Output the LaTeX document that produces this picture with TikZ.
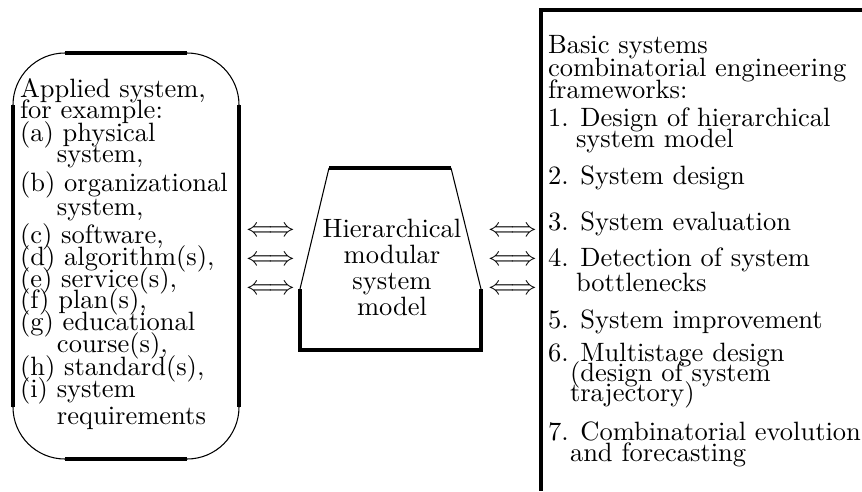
\documentclass[tikz,border=0pt]{standalone}
\begin{document}
\begin{tikzpicture}[x=0.3774pt,y=-0.3774pt,
  thinl/.style={line width=0.4pt},
  thickl/.style={line width=1.2pt},
  txt/.style={anchor=base west, inner sep=0pt, outer sep=0pt},
  ctxt/.style={anchor=base, inner sep=0pt, outer sep=0pt},
  arr/.style={anchor=base, inner sep=0pt, outer sep=0pt}]
\useasboundingbox (0,0) rectangle (862,491);

% left rounded box
\draw[thinl, rounded corners=19.6pt] (13,53) rectangle (239,459);
\draw[thickl] (13,105) -- (13,407);
\draw[thickl] (239,105) -- (239,407);
\draw[thickl] (65,53) -- (187,53);
\draw[thickl] (65,459) -- (187,459);

% middle shape
\draw[thinl] (329,168) -- (300,289);
\draw[thinl] (451,168) -- (481,289);
\draw[thickl] (329,168) -- (451,168);
\draw[thickl] (300,289) -- (300,350) -- (481,350) -- (481,289);

% right box (cut by the picture edge)
\draw[thickl] (862,10) -- (541,10) -- (541,491);

% left text
\node[txt] (l1)  at (20,97)  {Applied system,};
\node[txt] (l2)  at (20,118) {for example:};
\node[txt] (l3)  at (20,141) {(a) physical};
\node[txt] (l4)  at (57,162) {system,};
\node[txt] (l5)  at (20,191) {(b) organizational};
\node[txt] (l6)  at (57,215) {system,};
\node[txt] (l7)  at (20,243) {(c) software,};
\node[txt] (l8)  at (20,265) {(d) algorithm(s),};
\node[txt] (l9)  at (20,287) {(e) service(s),};
\node[txt] (l10) at (20,308) {(f) plan(s),};
\node[txt] (l11) at (20,330) {(g) educational};
\node[txt] (l12) at (57,352) {course(s),};
\node[txt] (l13) at (20,375) {(h) standard(s),};
\node[txt] (l14) at (20,397) {(i) system};
\node[txt] (l15) at (57,424) {requirements};

% middle text
\node[ctxt] (m1) at (392,237) {Hierarchical};
\node[ctxt] (m2) at (392,263) {modular};
\node[ctxt] (m3) at (392,289) {system};
\node[ctxt] (m4) at (392,315) {model};

% right text
\node[txt] (r1)  at (548,53)  {Basic systems};
\node[txt] (r2)  at (548,76)  {combinatorial engineering};
\node[txt] (r3)  at (548,98)  {frameworks:};
\node[txt] (r4)  at (548,126) {1. Design of hierarchical};
\node[txt] (r5)  at (576,147) {system model};
\node[txt] (r6)  at (548,184) {2. System design};
\node[txt] (r7)  at (548,230) {3. System evaluation};
\node[txt] (r8)  at (548,266) {4. Detection of system};
\node[txt] (r9)  at (576,291) {bottlenecks};
\node[txt] (r10) at (548,328) {5. System improvement};
\node[txt] (r11) at (548,361) {6. Multistage design};
\node[txt] (r12) at (570,381) {(design of system};
\node[txt] (r13) at (570,401) {trajectory)};
\node[txt] (r14) at (548,440) {7. Combinatorial evolution};
\node[txt] (r15) at (570,461) {and forecasting};

% double arrows
\node[arr] (al1) at (270.5,236.6) {$\Longleftrightarrow$};
\node[arr] (al2) at (270.5,265.6) {$\Longleftrightarrow$};
\node[arr] (al3) at (270.5,294.6) {$\Longleftrightarrow$};
\node[arr] (ar1) at (512.5,236.6) {$\Longleftrightarrow$};
\node[arr] (ar2) at (512.5,265.6) {$\Longleftrightarrow$};
\node[arr] (ar3) at (512.5,294.6) {$\Longleftrightarrow$};
\end{tikzpicture}
\end{document}
